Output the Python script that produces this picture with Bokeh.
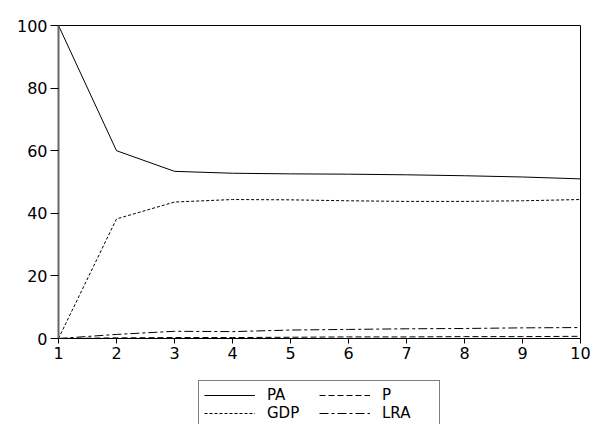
from bokeh.plotting import figure
from bokeh.models import Legend, LegendItem, Range1d, FixedTicker
from bokeh.layouts import column
from bokeh.embed import file_html
from bokeh.resources import INLINE

periods = [1, 2, 3, 4, 5, 6, 7, 8, 9, 10]
pa = [100.0, 60.0, 53.4, 52.8, 52.6, 52.5, 52.3, 52.0, 51.6, 51.0]
p_vals = [0.0, 0.2, 0.3, 0.3, 0.4, 0.5, 0.5, 0.6, 0.6, 0.7]
gdp = [0.0, 38.2, 43.6, 44.4, 44.3, 44.0, 43.8, 43.8, 44.0, 44.4]
lra = [0.0, 1.3, 2.3, 2.2, 2.7, 2.9, 3.1, 3.2, 3.4, 3.5]

x_ticks = [1, 2, 3, 4, 5, 6, 7, 8, 9, 10]
y_ticks = [0, 20, 40, 60, 80, 100]

series = [("PA", pa, None), ("GDP", gdp, "3 2"), ("P", p_vals, "6 3"), ("LRA", lra, "9 3 3 3")]

FONT = "DejaVu Sans"

p = figure(width=594, height=370, output_backend="svg", toolbar_location=None,
           x_range=Range1d(1, 10), y_range=Range1d(0, 100),
           min_border_left=58, min_border_top=25, min_border_right=14, min_border_bottom=32)
p.grid.visible = False
p.outline_line_color = "black"
p.outline_line_width = 1

for name, vals, dash in series:
    kw = {} if dash is None else {"line_dash": dash}
    p.line(periods, vals, line_color="black", line_width=1, **kw)

for ax in (p.xaxis[0], p.yaxis[0]):
    ax.major_label_text_font = FONT
    ax.major_label_text_font_size = "16px"
    ax.major_label_text_color = "black"
    ax.minor_tick_line_color = None
    ax.major_tick_in = 0
    ax.major_tick_line_color = "black"

p.xaxis.ticker = FixedTicker(ticks=x_ticks)
p.yaxis.ticker = FixedTicker(ticks=y_ticks)
p.xaxis.major_tick_out = 5
p.xaxis.major_label_standoff = 3
p.xaxis.axis_line_color = "black"
p.yaxis.major_tick_out = 8
p.yaxis.major_label_standoff = 3
p.yaxis.axis_line_color = "#666666"
p.yaxis.axis_line_width = 2

# legend strip below the chart
lg = figure(width=594, height=54, output_backend="svg", toolbar_location=None,
            x_range=Range1d(0, 1), y_range=Range1d(0, 1),
            min_border=0, x_axis_location=None, y_axis_location=None)
lg.grid.visible = False
lg.outline_line_color = None

items = []
for name, vals, dash in series:
    kw = {} if dash is None else {"line_dash": dash}
    r = lg.line(periods, vals, line_color="black", line_width=1, visible=False, **kw)
    items.append(LegendItem(label=name, renderers=[r]))

legend = Legend(items=items, ncols=2, location=(140, -4))
legend.border_line_color = "black"
legend.border_line_width = 1
legend.background_fill_alpha = 0
legend.label_text_font = FONT
legend.label_text_font_size = "15px"
legend.label_text_color = "black"
legend.glyph_width = 51
legend.glyph_height = 14
legend.label_standoff = 12
legend.label_width = 52
legend.padding = 5
legend.spacing = 0
legend.margin = 0
legend.inactive_fill_alpha = 0
lg.add_layout(legend, "center")

open("out.html", "w").write(file_html(column(p, lg), INLINE))
